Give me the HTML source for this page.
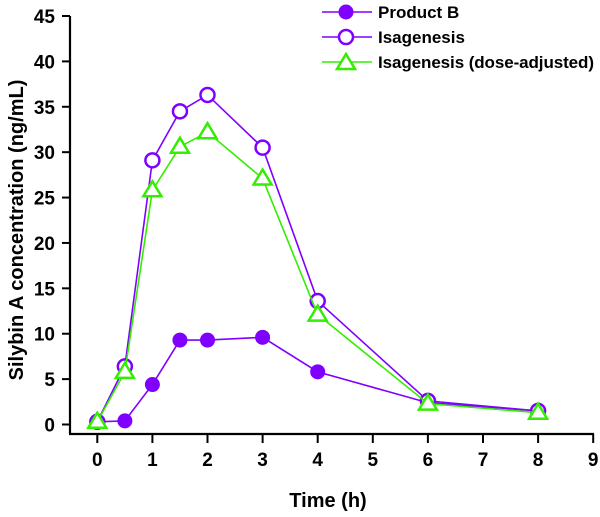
<!DOCTYPE html>
<html><head><meta charset="utf-8"><style>
body{margin:0;background:#fff;}
svg text{font-family:"Liberation Sans",sans-serif;font-weight:bold;fill:#000;}
</style></head><body>
<svg id="chart" width="600" height="512" xmlns="http://www.w3.org/2000/svg"></svg>
<script>
const times=[0,0.5,1,1.5,2,3,4,6,8];
const productB=[0.3,0.4,4.4,9.3,9.3,9.6,5.8,2.4,1.5];
const isagenesis=[0.3,6.4,29.1,34.5,36.3,30.5,13.6,2.6,1.5];
const isaAdjusted=[0.3,5.8,25.8,30.6,32.2,27.1,12.1,2.3,1.3];
const xTicks=[0,1,2,3,4,5,6,7,8,9];
const yTicks=[0,5,10,15,20,25,30,35,40,45];
const seriesNames=["Product B","Isagenesis","Isagenesis (dose-adjusted)"];

const NS="http://www.w3.org/2000/svg";
const svg=document.getElementById('chart');
const X=v=>97.3+v*55.1;
const Y=v=>424.5-v*(408.5/45);
const PURPLE="#7f00ff",GREEN="#33ee00";
function mk(tag,attrs,parent){const e=document.createElementNS(NS,tag);for(const k in attrs)e.setAttribute(k,attrs[k]);(parent||svg).appendChild(e);return e;}

const ax=mk('g',{});


mk('line',{x1:70,y1:16,x2:70,y2:434,stroke:'#000','stroke-width':2.2},ax);
mk('line',{x1:69,y1:434,x2:594,y2:434,stroke:'#000','stroke-width':2.2},ax);
yTicks.forEach(t=>{
  mk('line',{x1:62,y1:Y(t),x2:70,y2:Y(t),stroke:'#000','stroke-width':2},ax);
  const tx=mk('text',{x:55,y:Y(t)+7,'text-anchor':'end','font-size':19},ax);tx.textContent=t;
  
  
});
xTicks.forEach(t=>{
  mk('line',{x1:X(t),y1:434,x2:X(t),y2:443,stroke:'#000','stroke-width':2},ax);
  const tx=mk('text',{x:X(t),y:466,'text-anchor':'middle','font-size':19},ax);tx.textContent=t;
  
  
});
const xt=mk('text',{x:328,y:507,'text-anchor':'middle','font-size':20});xt.textContent='Time (h)';


const yt=mk('text',{x:0,y:0,'text-anchor':'middle','font-size':20,transform:'translate(23,230) rotate(-90)'});yt.textContent='Silybin A concentration (ng/mL)';



function marker(type,cx,cy,g){
  if(type==='filled')return mk('circle',{cx,cy,r:7.5,fill:PURPLE},g);
  if(type==='open')return mk('circle',{cx,cy,r:7,fill:'#fff',stroke:PURPLE,'stroke-width':2.5},g);
  return mk('polygon',{points:`${cx},${cy-9} ${cx-9},${cy+6} ${cx+9},${cy+6}`,fill:'#fff',stroke:GREEN,'stroke-width':2.5},g);
}
function series(vals,color,type,name){
  const g=mk('g',{});
  
  
  mk('polyline',{points:vals.map((v,i)=>X(times[i])+','+Y(v)).join(' '),fill:'none',stroke:color,'stroke-width':1.6},g);
  vals.forEach((v,i)=>{const m=marker(type,X(times[i]),Y(v),g);
    
    });
}
series(productB,PURPLE,'filled','series-product-b');
series(isagenesis,PURPLE,'open','series-isagenesis');
series(isaAdjusted,GREEN,'tri','series-isagenesis-adjusted');

const types=['filled','open','tri'],cols=[PURPLE,PURPLE,GREEN];
seriesNames.forEach((n,i)=>{
  const g=mk('g',{});
  
  
  const y=12+i*25;
  mk('line',{x1:322,y1:y,x2:372,y2:y,stroke:cols[i],'stroke-width':1.6},g);
  marker(types[i],346,y+(i===2?1:0),g);
  const t=mk('text',{x:378,y:y+6,'font-size':17,textLength:i===2?216:null},g);t.textContent=n;
  if(i!==2)t.removeAttribute('textLength');
});
</script>
</body></html>
